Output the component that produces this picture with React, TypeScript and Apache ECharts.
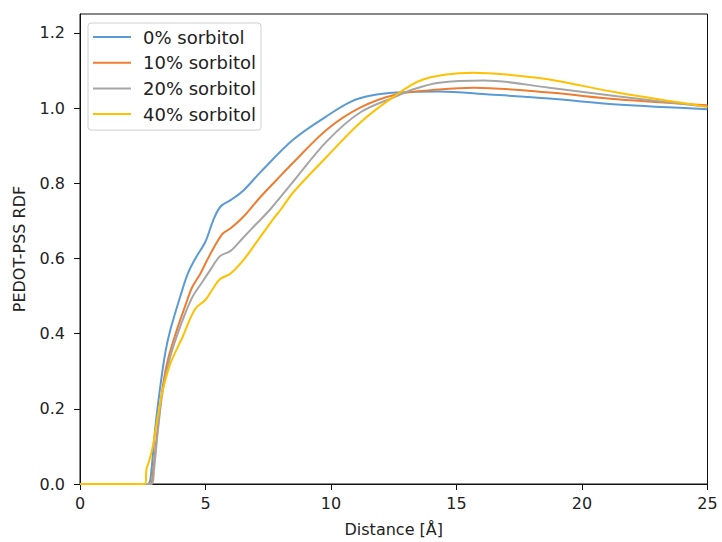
import React, { useEffect, useRef } from "react";
import * as echarts from "echarts";

const seriesNames = ["0% sorbitol", "10% sorbitol", "20% sorbitol", "40% sorbitol"];
const seriesColors = ["#5B9BD5", "#ED7D31", "#A5A5A5", "#FFC000"];

const s0X = [0, 2.7, 2.8, 3.0, 3.2, 3.4, 3.6, 4.0, 4.3, 4.6, 5.0, 5.3, 5.6, 6.0, 6.5, 7.2, 8.5, 9.8, 10.8, 11.6, 12.6, 14.3, 16.3, 18.7, 21.4, 25];
const s0Y = [0, 0, 0.01, 0.15, 0.26, 0.35, 0.41, 0.5, 0.56, 0.6, 0.645, 0.7, 0.738, 0.755, 0.78, 0.83, 0.916, 0.977, 1.017, 1.033, 1.041, 1.044, 1.036, 1.025, 1.009, 0.997];

const s10X = [0, 2.8, 2.9, 3.1, 3.3, 3.5, 3.86, 4.2, 4.46, 4.8, 5.1, 5.66, 6.0, 6.5, 7.17, 7.85, 8.5, 9.84, 11.16, 12.6, 14.3, 15.7, 18.7, 21.4, 25];
const s10Y = [0, 0, 0.03, 0.15, 0.26, 0.33, 0.41, 0.475, 0.522, 0.56, 0.6, 0.664, 0.68, 0.71, 0.762, 0.81, 0.855, 0.943, 1.001, 1.036, 1.049, 1.054, 1.041, 1.023, 1.007];

const s20X = [0, 2.85, 2.95, 3.1, 3.3, 3.6, 4.0, 4.46, 4.9, 5.2, 5.58, 6.0, 6.5, 7.0, 7.6, 8.5, 9.84, 11.16, 12.6, 13.2, 14.3, 16.1, 18.7, 21.4, 25];
const s20Y = [0, 0, 0.04, 0.14, 0.25, 0.34, 0.42, 0.495, 0.54, 0.57, 0.606, 0.62, 0.655, 0.69, 0.732, 0.805, 0.912, 0.988, 1.031, 1.048, 1.067, 1.073, 1.054, 1.031, 1.003];

const s40X = [0, 2.6, 2.65, 2.75, 2.9, 3.1, 3.3, 3.6, 4.1, 4.58, 5.0, 5.3, 5.58, 6.0, 6.5, 7.0, 7.69, 8.0, 8.5, 9.84, 11.16, 12.35, 13.67, 15.66, 17.0, 18.7, 21.4, 25];
const s40Y = [0, 0, 0.04, 0.06, 0.1, 0.18, 0.25, 0.32, 0.393, 0.465, 0.49, 0.52, 0.545, 0.56, 0.595, 0.64, 0.704, 0.73, 0.776, 0.871, 0.961, 1.023, 1.076, 1.094, 1.089, 1.076, 1.041, 1.003];

const seriesX = [s0X, s10X, s20X, s40X];
const seriesY = [s0Y, s10Y, s20Y, s40Y];

const xTicks = [0, 5, 10, 15, 20, 25];
const yTicks = [0, 0.2, 0.4, 0.6, 0.8, 1.0, 1.2];

const FONT = "DejaVu Sans";
const TEXT = "#222";

export default function App() {
  const ref = useRef<HTMLDivElement>(null);
  useEffect(() => {
    if (!ref.current) return;
    const chart = echarts.init(ref.current, null, { renderer: "svg" });
    chart.setOption({
      animation: false,
      backgroundColor: "#fff",
      textStyle: { fontFamily: FONT },
      grid: {
        left: 80,
        right: 14.5,
        top: 14,
        bottom: 57,
        show: true,
        borderColor: "#111",
        borderWidth: 1,
        backgroundColor: "transparent",
      },
      legend: {
        left: 88,
        top: 23,
        orient: "vertical",
        data: seriesNames,
        icon: "rect",
        itemWidth: 38,
        itemHeight: 2,
        itemGap: 7.7,
        padding: [5, 5, 7, 5],
        backgroundColor: "#fff",
        borderColor: "#d0d0d0",
        borderWidth: 1,
        borderRadius: 3,
        textStyle: {
          fontFamily: FONT,
          fontSize: 18,
          lineHeight: 18,
          height: 18,
          color: TEXT,
          padding: [0, 0, 0, 7],
        },
      },
      xAxis: {
        type: "value",
        min: 0,
        max: 25,
        interval: 5,
        name: "Distance [Å]",
        nameLocation: "middle",
        nameGap: 37,
        nameTextStyle: { fontFamily: FONT, fontSize: 16, color: TEXT },
        axisLine: { show: true, lineStyle: { color: "#111", width: 1 } },
        axisTick: { show: true, length: 6, lineStyle: { color: "#111" }, customValues: xTicks },
        axisLabel: { fontFamily: FONT, fontSize: 16, color: TEXT, margin: 11, customValues: xTicks },
        splitLine: { show: false },
      },
      yAxis: {
        type: "value",
        min: 0,
        max: 1.25,
        interval: 0.2,
        name: "PEDOT-PSS RDF",
        nameLocation: "middle",
        nameGap: 53,
        nameTextStyle: { fontFamily: FONT, fontSize: 16, color: TEXT },
        axisLine: { show: true, lineStyle: { color: "#111", width: 1 } },
        axisTick: { show: true, length: 6, lineStyle: { color: "#111" }, customValues: yTicks },
        axisLabel: {
          fontFamily: FONT,
          fontSize: 16,
          color: TEXT,
          margin: 15,
          customValues: yTicks,
          formatter: (v: number) => v.toFixed(1),
        },
        splitLine: { show: false },
      },
      series: seriesNames.map((name, i) => ({
        name,
        type: "line",
        data: seriesX[i].map((x, j) => [x, seriesY[i][j]]),
        symbol: "none",
        smooth: 0.35,
        lineStyle: { color: seriesColors[i], width: 2 },
        itemStyle: { color: seriesColors[i] },
        z: 2 + i,
      })),
    });
    return () => chart.dispose();
  }, []);
  return <div ref={ref} style={{ width: 722, height: 542, position: "absolute", left: 0, top: 0 }} />;
}
